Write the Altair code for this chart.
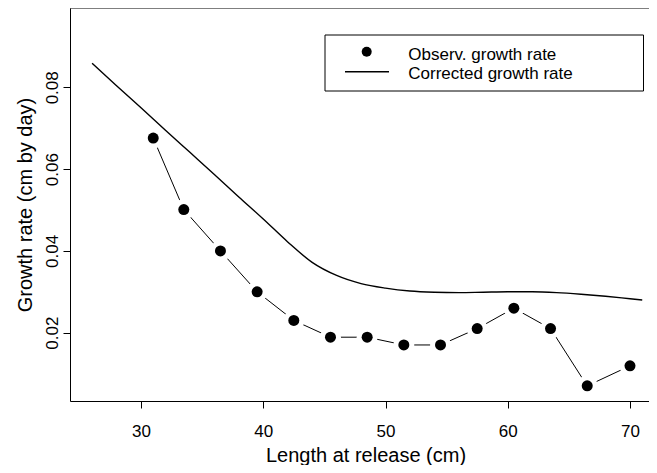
import altair as alt
import pandas as pd

# Observed growth rate (points joined by segments)
obs_x = [31, 33.5, 36.5, 39.5, 42.5, 45.5, 48.5, 51.5, 54.5, 57.5, 60.5, 63.5, 66.5, 70]
obs_y = [0.0676, 0.0501, 0.0400, 0.0300, 0.0230, 0.0189, 0.0189, 0.0170, 0.0170,
         0.0210, 0.0260, 0.0210, 0.0070, 0.0119]

# Corrected growth rate (smooth curve)
cor_x = [26, 28, 30, 32, 34, 36, 38, 40, 42, 44, 46, 48, 50, 52, 54, 56, 58, 60, 62, 64, 66, 68, 70, 71]
cor_y = [0.0859, 0.0804, 0.0750, 0.0695, 0.0641, 0.0587, 0.0532, 0.0478, 0.0422, 0.0372,
         0.0340, 0.0320, 0.0309, 0.0302, 0.0299, 0.0298, 0.0299, 0.0300, 0.0300, 0.0298,
         0.0294, 0.0289, 0.0283, 0.0280]

x_ticks = [30, 40, 50, 60, 70]
y_ticks = [0.02, 0.04, 0.06, 0.08]
legend_labels = ["Observ. growth rate", "Corrected growth rate"]
x_title = "Length at release (cm)"
y_title = "Growth rate (cm by day)"

FONT = "Liberation Sans"
W, H = 579, 393
PX_PER_X = 12.225
x_dom = [24.192, 24.192 + W / PX_PER_X]
y_dom = [0.0033, 0.09939]

obs = pd.DataFrame({"x": obs_x, "y": obs_y})
cor = pd.DataFrame({"x": cor_x, "y": cor_y})
one = pd.DataFrame({"k": [0]})

xs = alt.Scale(domain=x_dom, nice=False, zero=False)
ys = alt.Scale(domain=y_dom, nice=False, zero=False)

xenc = alt.X("x:Q", scale=xs, axis=alt.Axis(
    values=x_ticks, title=x_title, grid=False, tickSize=7, labelPadding=28,
    labelBaseline="alphabetic", labelAlign="center",
    labelFontSize=17, titleFontSize=20, labelFont=FONT, titleFont=FONT,
    labelColor="black", titleColor="black", domainColor="black", tickColor="black",
    titleFontWeight="normal", titleY=60, titleX=(661 - 70) / 2, titleAlign="center",
    titleBaseline="alphabetic"))
yenc = alt.Y("y:Q", scale=ys, axis=alt.Axis(
    values=y_ticks, title=y_title, grid=False, tickSize=7, labelPadding=6,
    labelAngle=270, labelAlign="center", labelBaseline="alphabetic", format=".2f",
    labelFontSize=17, titleFontSize=20, labelFont=FONT, titleFont=FONT,
    labelColor="black", titleColor="black", domainColor="black", tickColor="black",
    titleFontWeight="normal", titleAngle=270, titleX=-38.3, titleY=(401 - 8) / 2,
    titleAlign="center", titleBaseline="alphabetic"))

seg = alt.Chart(obs).mark_line(color="black", strokeWidth=1).encode(x=xenc, y=yenc)
halo = alt.Chart(obs).mark_circle(color="white", opacity=1, size=441).encode(x="x:Q", y="y:Q")
dots = alt.Chart(obs).mark_circle(color="black", opacity=1, size=121).encode(x="x:Q", y="y:Q")
curve = alt.Chart(cor).mark_line(color="black", strokeWidth=1.4, interpolate="monotone").encode(x="x:Q", y="y:Q")

top_rule = alt.Chart(one).mark_rule(color="black", strokeWidth=1).encode(
    x=alt.value(0), x2=alt.value(W), y=alt.value(0))

leg_box = alt.Chart(one).mark_rect(fill="white", stroke="black", strokeWidth=1).encode(
    x=alt.value(255), x2=alt.value(573.5), y=alt.value(27), y2=alt.value(83))
leg_dot = alt.Chart(one).mark_circle(color="black", opacity=1, size=100).encode(
    x=alt.value(296.7), y=alt.value(43.7))
leg_line = alt.Chart(one).mark_rule(color="black", strokeWidth=1.4).encode(
    x=alt.value(275), x2=alt.value(319), y=alt.value(63.7))
leg_t1 = alt.Chart(one).mark_text(align="left", baseline="alphabetic", font=FONT, fontSize=17, color="black").encode(
    x=alt.value(338.3), y=alt.value(52), text=alt.value(legend_labels[0]))
leg_t2 = alt.Chart(one).mark_text(align="left", baseline="alphabetic", font=FONT, fontSize=17, color="black").encode(
    x=alt.value(338.3), y=alt.value(71), text=alt.value(legend_labels[1]))

chart = alt.layer(seg, halo, dots, curve, top_rule, leg_box, leg_dot, leg_line, leg_t1, leg_t2).properties(
    width=W, height=H,
    autosize=alt.AutoSizeParams(type="none"),
    padding={"left": 62, "top": 0, "right": 0, "bottom": 64},
    background="white",
).configure_view(stroke=None)

chart.save("out.html", embed_options={"renderer": "svg", "actions": False})
